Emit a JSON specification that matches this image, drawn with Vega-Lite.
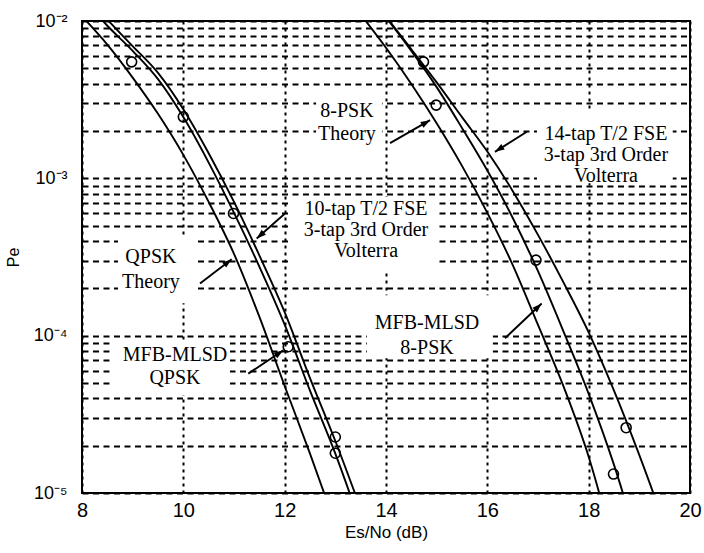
{
  "$schema": "https://vega.github.io/schema/vega-lite/v6.json",
  "width": 608,
  "height": 472,
  "autosize": {"type": "none"},
  "padding": {"left": 82, "top": 21, "right": 14, "bottom": 60},
  "background": "white",
  "config": {
    "view": {"stroke": "black", "strokeWidth": 2},
    "axis": {
      "domain": false,
      "ticks": false,
      "gridColor": "black",
      "gridOpacity": 1,
      "labelColor": "black",
      "titleColor": "black",
      "labelFont": "Liberation Sans",
      "titleFont": "Liberation Sans",
      "titleFontWeight": "normal",
      "labelOverlap": false,
      "labelFlush": false
    }
  },
  "datasets": {
    "curves": [
      {"curve": "QPSK theory", "esno": 8.0, "pe": 1.072e-2},
      {"curve": "QPSK theory", "esno": 8.5, "pe": 7.08e-3},
      {"curve": "QPSK theory", "esno": 9.0, "pe": 4.37e-3},
      {"curve": "QPSK theory", "esno": 9.5, "pe": 2.57e-3},
      {"curve": "QPSK theory", "esno": 10.0, "pe": 1.41e-3},
      {"curve": "QPSK theory", "esno": 10.5, "pe": 7.08e-4},
      {"curve": "QPSK theory", "esno": 11.0, "pe": 3.31e-4},
      {"curve": "QPSK theory", "esno": 11.5, "pe": 1.32e-4},
      {"curve": "QPSK theory", "esno": 12.0, "pe": 4.79e-5},
      {"curve": "QPSK theory", "esno": 12.5, "pe": 1.78e-5},
      {"curve": "QPSK theory", "esno": 13.0, "pe": 6.31e-6},

      {"curve": "MFB-MLSD QPSK", "esno": 8.0, "pe": 1.413e-2},
      {"curve": "MFB-MLSD QPSK", "esno": 8.5, "pe": 9.33e-3},
      {"curve": "MFB-MLSD QPSK", "esno": 9.0, "pe": 6.46e-3},
      {"curve": "MFB-MLSD QPSK", "esno": 9.5, "pe": 4.27e-3},
      {"curve": "MFB-MLSD QPSK", "esno": 10.0, "pe": 2.45e-3},
      {"curve": "MFB-MLSD QPSK", "esno": 10.5, "pe": 1.259e-3},
      {"curve": "MFB-MLSD QPSK", "esno": 11.0, "pe": 6.03e-4},
      {"curve": "MFB-MLSD QPSK", "esno": 11.5, "pe": 2.75e-4},
      {"curve": "MFB-MLSD QPSK", "esno": 12.0, "pe": 1.175e-4},
      {"curve": "MFB-MLSD QPSK", "esno": 12.5, "pe": 4.47e-5},
      {"curve": "MFB-MLSD QPSK", "esno": 13.0, "pe": 1.78e-5},
      {"curve": "MFB-MLSD QPSK", "esno": 13.5, "pe": 6.31e-6},

      {"curve": "10-tap FSE + Volterra", "esno": 8.0, "pe": 1.585e-2},
      {"curve": "10-tap FSE + Volterra", "esno": 8.5, "pe": 1.023e-2},
      {"curve": "10-tap FSE + Volterra", "esno": 9.0, "pe": 6.92e-3},
      {"curve": "10-tap FSE + Volterra", "esno": 9.5, "pe": 4.68e-3},
      {"curve": "10-tap FSE + Volterra", "esno": 10.0, "pe": 2.75e-3},
      {"curve": "10-tap FSE + Volterra", "esno": 10.5, "pe": 1.445e-3},
      {"curve": "10-tap FSE + Volterra", "esno": 11.0, "pe": 7.08e-4},
      {"curve": "10-tap FSE + Volterra", "esno": 11.5, "pe": 3.24e-4},
      {"curve": "10-tap FSE + Volterra", "esno": 12.0, "pe": 1.41e-4},
      {"curve": "10-tap FSE + Volterra", "esno": 12.5, "pe": 5.37e-5},
      {"curve": "10-tap FSE + Volterra", "esno": 13.0, "pe": 2.14e-5},
      {"curve": "10-tap FSE + Volterra", "esno": 13.5, "pe": 7.94e-6},

      {"curve": "8-PSK theory", "esno": 13.5, "pe": 1.10e-2},
      {"curve": "8-PSK theory", "esno": 14.0, "pe": 6.76e-3},
      {"curve": "8-PSK theory", "esno": 14.5, "pe": 3.98e-3},
      {"curve": "8-PSK theory", "esno": 15.0, "pe": 2.24e-3},
      {"curve": "8-PSK theory", "esno": 15.5, "pe": 1.20e-3},
      {"curve": "8-PSK theory", "esno": 16.0, "pe": 6.03e-4},
      {"curve": "8-PSK theory", "esno": 16.5, "pe": 2.82e-4},
      {"curve": "8-PSK theory", "esno": 17.0, "pe": 1.17e-4},
      {"curve": "8-PSK theory", "esno": 17.5, "pe": 4.79e-5},
      {"curve": "8-PSK theory", "esno": 18.0, "pe": 1.70e-5},
      {"curve": "8-PSK theory", "esno": 18.5, "pe": 4.47e-6},

      {"curve": "MFB-MLSD 8-PSK", "esno": 13.5, "pe": 1.58e-2},
      {"curve": "MFB-MLSD 8-PSK", "esno": 14.0, "pe": 1.05e-2},
      {"curve": "MFB-MLSD 8-PSK", "esno": 14.5, "pe": 6.46e-3},
      {"curve": "MFB-MLSD 8-PSK", "esno": 15.0, "pe": 3.80e-3},
      {"curve": "MFB-MLSD 8-PSK", "esno": 15.5, "pe": 2.09e-3},
      {"curve": "MFB-MLSD 8-PSK", "esno": 16.0, "pe": 1.12e-3},
      {"curve": "MFB-MLSD 8-PSK", "esno": 16.5, "pe": 5.62e-4},
      {"curve": "MFB-MLSD 8-PSK", "esno": 17.0, "pe": 2.57e-4},
      {"curve": "MFB-MLSD 8-PSK", "esno": 17.5, "pe": 1.07e-4},
      {"curve": "MFB-MLSD 8-PSK", "esno": 18.0, "pe": 4.27e-5},
      {"curve": "MFB-MLSD 8-PSK", "esno": 18.5, "pe": 1.51e-5},
      {"curve": "MFB-MLSD 8-PSK", "esno": 19.0, "pe": 4.47e-6},

      {"curve": "14-tap FSE + Volterra", "esno": 13.5, "pe": 1.78e-2},
      {"curve": "14-tap FSE + Volterra", "esno": 14.0, "pe": 1.07e-2},
      {"curve": "14-tap FSE + Volterra", "esno": 14.5, "pe": 6.61e-3},
      {"curve": "14-tap FSE + Volterra", "esno": 15.0, "pe": 4.07e-3},
      {"curve": "14-tap FSE + Volterra", "esno": 15.5, "pe": 2.45e-3},
      {"curve": "14-tap FSE + Volterra", "esno": 16.0, "pe": 1.48e-3},
      {"curve": "14-tap FSE + Volterra", "esno": 16.5, "pe": 8.32e-4},
      {"curve": "14-tap FSE + Volterra", "esno": 17.0, "pe": 4.37e-4},
      {"curve": "14-tap FSE + Volterra", "esno": 17.5, "pe": 2.19e-4},
      {"curve": "14-tap FSE + Volterra", "esno": 18.0, "pe": 1.05e-4},
      {"curve": "14-tap FSE + Volterra", "esno": 18.5, "pe": 4.47e-5},
      {"curve": "14-tap FSE + Volterra", "esno": 19.0, "pe": 1.74e-5},
      {"curve": "14-tap FSE + Volterra", "esno": 19.5, "pe": 6.31e-6}
    ],
    "simulated": [
      {"esno": 8.98, "pe": 5.5e-3},
      {"esno": 10.0, "pe": 2.46e-3},
      {"esno": 10.99, "pe": 5.98e-4},
      {"esno": 12.07, "pe": 8.5e-5},
      {"esno": 13.0, "pe": 2.27e-5},
      {"esno": 13.0, "pe": 1.79e-5},
      {"esno": 14.74, "pe": 5.5e-3},
      {"esno": 14.99, "pe": 2.92e-3},
      {"esno": 16.96, "pe": 3.02e-4},
      {"esno": 18.74, "pe": 2.6e-5},
      {"esno": 18.49, "pe": 1.32e-5}
    ],
    "boxes": [
      {"x0": 8.71, "x1": 10.23, "y0": 1.61e-4, "y1": 4.23e-4},
      {"x0": 8.55, "x1": 10.92, "y0": 4.18e-5, "y1": 9.35e-5},
      {"x0": 12.14, "x1": 15.01, "y0": 2.53e-4, "y1": 7.6e-4},
      {"x0": 12.62, "x1": 13.92, "y0": 1.60e-3, "y1": 3.28e-3},
      {"x0": 16.98, "x1": 19.66, "y0": 9.32e-4, "y1": 2.64e-3},
      {"x0": 13.62, "x1": 16.11, "y0": 7.18e-5, "y1": 1.81e-4}
    ],
    "arrows": [
      {"x": 14.08, "y": 1.675e-3, "tx": 14.87, "ty": 2.344e-3, "angle": 60},
      {"x": 16.78, "y": 1.977e-3, "tx": 16.15, "ty": 1.474e-3, "angle": 238},
      {"x": 12.006, "y": 5.98e-4, "tx": 11.448, "ty": 4.146e-4, "angle": 228.5},
      {"x": 10.329, "y": 2.145e-4, "tx": 10.954, "ty": 3.06e-4, "angle": 52.5},
      {"x": 11.282, "y": 5.74e-5, "tx": 11.973, "ty": 8.07e-5, "angle": 56.3},
      {"x": 16.348, "y": 9.63e-5, "tx": 17.072, "ty": 1.60e-4, "angle": 46.6}
    ],
    "notes": [
      {"x": 13.23, "y": 2.676e-3, "text": "8-PSK"},
      {"x": 13.23, "y": 1.911e-3, "text": "Theory"},
      {"x": 18.34, "y": 1.911e-3, "text": "14-tap T/2 FSE"},
      {"x": 18.34, "y": 1.405e-3, "text": "3-tap 3rd Order"},
      {"x": 18.34, "y": 1.033e-3, "text": "Volterra"},
      {"x": 13.605, "y": 6.37e-4, "text": "10-tap T/2 FSE"},
      {"x": 13.605, "y": 4.68e-4, "text": "3-tap 3rd Order"},
      {"x": 13.605, "y": 3.44e-4, "text": "Volterra"},
      {"x": 9.36, "y": 3.153e-4, "text": "QPSK"},
      {"x": 9.36, "y": 2.186e-4, "text": "Theory"},
      {"x": 9.835, "y": 7.5e-5, "text": "MFB-MLSD"},
      {"x": 9.835, "y": 5.36e-5, "text": "QPSK"},
      {"x": 14.81, "y": 1.2e-4, "text": "MFB-MLSD"},
      {"x": 14.81, "y": 8.32e-5, "text": "8-PSK"}
    ]
  },
  "layer": [
    {
      "data": {"name": "boxes"},
      "mark": {"type": "rect", "fill": "white", "stroke": null},
      "encoding": {
        "x": {
          "field": "x0",
          "type": "quantitative",
          "scale": {"domain": [8, 20], "nice": false, "zero": false},
          "axis": {
            "title": "Es/No (dB)",
            "values": [8, 10, 12, 14, 16, 18, 20],
            "grid": true,
            "gridDash": [3, 4],
            "gridWidth": 2,
            "labelFontSize": 20,
            "labelPadding": 7,
            "titleFontSize": 17,
            "titlePadding": 4
          }
        },
        "x2": {"field": "x1"},
        "y": {
          "field": "y0",
          "type": "quantitative",
          "scale": {"type": "log", "domain": [0.00001, 0.01], "nice": false},
          "axis": {
            "title": "Pe",
            "values": [0.00001, 0.00002, 0.00003, 0.00004, 0.00005, 0.00006, 0.00007, 0.00008, 0.00009,
                       0.0001, 0.0002, 0.0003, 0.0004, 0.0005, 0.0006, 0.0007, 0.0008, 0.0009,
                       0.001, 0.002, 0.003, 0.004, 0.005, 0.006, 0.007, 0.008, 0.009, 0.01],
            "labelExpr": "datum.value === 0.01 ? '10⁻²' : datum.value === 0.001 ? '10⁻³' : datum.value === 0.0001 ? '10⁻⁴' : datum.value === 0.00001 ? '10⁻⁵' : ''",
            "grid": true,
            "gridDash": [6, 4.5],
            "gridWidth": 2,
            "labelFontSize": 18,
            "labelPadding": 15,
            "titleFontSize": 16,
            "titlePadding": 12
          }
        },
        "y2": {"field": "y1"}
      }
    },
    {
      "data": {"name": "curves"},
      "mark": {"type": "line", "color": "black", "strokeWidth": 1.9, "interpolate": "monotone", "clip": true},
      "encoding": {
        "x": {"field": "esno", "type": "quantitative"},
        "y": {"field": "pe", "type": "quantitative"},
        "detail": {"field": "curve"}
      }
    },
    {
      "data": {"name": "simulated"},
      "mark": {"type": "point", "shape": "circle", "filled": false, "stroke": "black", "strokeWidth": 1.6, "size": 100, "opacity": 1},
      "encoding": {
        "x": {"field": "esno", "type": "quantitative"},
        "y": {"field": "pe", "type": "quantitative"}
      }
    },
    {
      "data": {"name": "arrows"},
      "mark": {"type": "rule", "color": "black", "strokeWidth": 1.9},
      "encoding": {
        "x": {"field": "x", "type": "quantitative"},
        "y": {"field": "y", "type": "quantitative"},
        "x2": {"field": "tx"},
        "y2": {"field": "ty"}
      }
    },
    {
      "data": {"name": "arrows"},
      "mark": {"type": "point", "shape": "M0,0L-0.55,1.6L0.55,1.6Z", "filled": true, "color": "black", "size": 140, "opacity": 1},
      "encoding": {
        "x": {"field": "tx", "type": "quantitative"},
        "y": {"field": "ty", "type": "quantitative"},
        "angle": {"field": "angle", "type": "quantitative", "scale": null}
      }
    },
    {
      "data": {"name": "notes"},
      "mark": {"type": "text", "font": "Liberation Serif", "fontSize": 20, "align": "center", "baseline": "middle", "color": "black"},
      "encoding": {
        "x": {"field": "x", "type": "quantitative"},
        "y": {"field": "y", "type": "quantitative"},
        "text": {"field": "text"}
      }
    }
  ]
}
